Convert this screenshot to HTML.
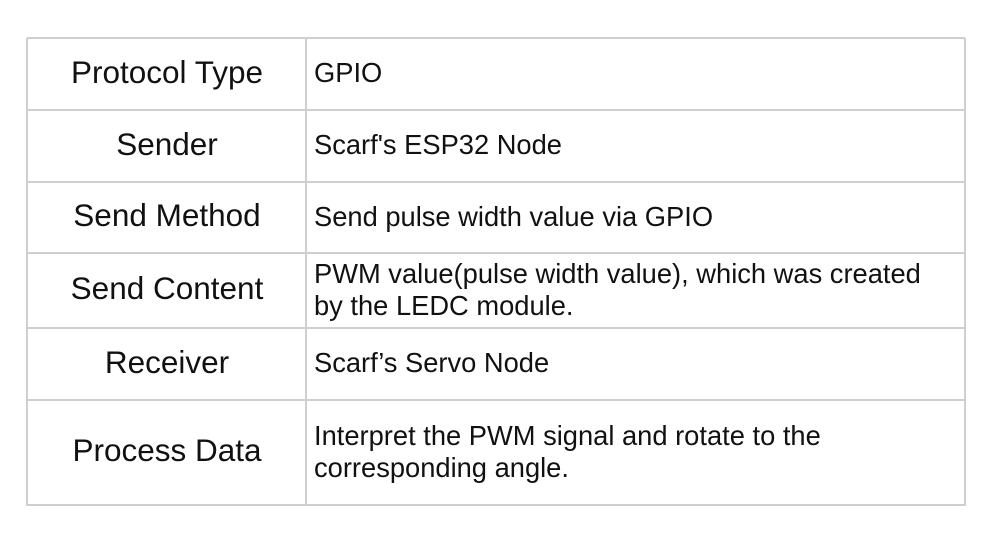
<!DOCTYPE html>
<html><head><style>
body{margin:0;width:1000px;height:541px;background:#fff;font-family:"Liberation Sans",sans-serif;color:#111;position:relative;overflow:hidden}
.h{position:absolute;left:27px;width:938px;height:2px;background:#cfcfcf}
.v{position:absolute;top:38px;height:468px;width:2px;background:#cfcfcf}
.l{position:absolute;left:28px;width:278px;text-align:center;font-size:31.5px;display:flex;align-items:center;justify-content:center;margin-top:-2px}
.r{position:absolute;left:314px;width:648px;font-size:27.3px;line-height:32px;display:flex;align-items:center;margin-top:-1px}
</style></head><body>
<div class="h" style="top:37px"></div>
<div class="h" style="top:109px"></div>
<div class="h" style="top:181px"></div>
<div class="h" style="top:252px"></div>
<div class="h" style="top:327px"></div>
<div class="h" style="top:399px"></div>
<div class="h" style="top:504px"></div>
<div class="v" style="left:26px"></div>
<div class="v" style="left:305px"></div>
<div class="v" style="left:964px"></div>
<div class="l" style="top:38px;height:72px">Protocol Type</div>
<div class="l" style="top:110px;height:72px">Sender</div>
<div class="l" style="top:182px;height:71px">Send Method</div>
<div class="l" style="top:253px;height:75px">Send Content</div>
<div class="l" style="top:328px;height:72px">Receiver</div>
<div class="l" style="top:400px;height:105px">Process Data</div>
<div class="r" style="top:38px;height:72px">GPIO</div>
<div class="r" style="top:110px;height:72px">Scarf's ESP32 Node</div>
<div class="r" style="top:182px;height:71px">Send pulse width value via GPIO</div>
<div class="r" style="top:253px;height:75px">PWM value(pulse width value), which was created<br>by the LEDC module.</div>
<div class="r" style="top:328px;height:72px">Scarf’s Servo Node</div>
<div class="r" style="top:400px;height:105px">Interpret the PWM signal and rotate to the<br>corresponding angle.</div>
</body></html>
